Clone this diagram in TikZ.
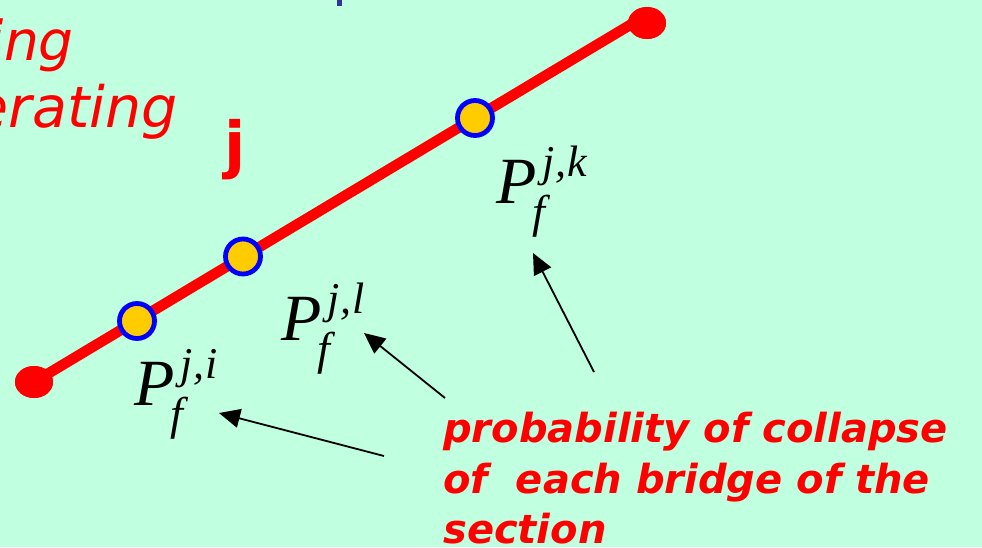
\documentclass[tikz,border=0pt]{standalone}
\usepackage{fontspec}
\usetikzlibrary{arrows.meta,shapes.geometric}
\newfontfamily\vfont{DejaVu Sans}
\newfontfamily\tnr{Liberation Serif}
\definecolor{bgmint}{RGB}{192,255,224}
\definecolor{bridgefill}{RGB}{255,204,0}
\definecolor{markblue}{RGB}{51,51,153}
\newcommand{\pflabel}[1]{{\tnr\itshape\fontsize{66}{66}\selectfont P\rlap{\kern6pt\raisebox{27pt}{\fontsize{44}{44}\selectfont j\kern1pt,\kern1pt#1}}\kern-4pt\raisebox{-24pt}{\fontsize{46}{46}\selectfont f}}}
\tikzset{
  endpt/.style={ellipse, fill=red, draw=none, minimum width=38pt, minimum height=32pt, inner sep=0pt},
  bridge/.style={circle, fill=bridgefill, draw=blue, line width=4.8pt, minimum size=35pt, inner sep=0pt},
  road/.style={red, line width=10.5pt},
  pflab/.style={anchor=base west, inner sep=0pt},
  pointer/.style={black, line width=1.8pt, -{Triangle[length=21pt,width=19pt]}},
  redtxt/.style={text=red, inner sep=0pt}
}
\begin{document}
\begin{tikzpicture}[x=1pt,y=-1pt]
\fill[bgmint] (0,0) rectangle (982,547);
\useasboundingbox (0,0) rectangle (982,547);
% cropped blue text fragment
\fill[markblue] (337,0) rectangle (342,6);
% cropped red texts
\node[redtxt, anchor=base east, font=\vfont\itshape\fontsize{55}{55}\selectfont] (ing) at (74,60) {ing};
\node[redtxt, anchor=base east, font=\vfont\itshape\fontsize{57}{57}\selectfont] (erating) at (178,127) {erating};
\node[redtxt, anchor=base, font=\vfont\bfseries\fontsize{62}{62}\selectfont] (jlab) at (235,166) {j};
% road
\node[endpt] (endL) at (34,382) {};
\node[endpt] (endR) at (647,23) {};
\coordinate (rtip) at (640,19);
\draw[road] (endL.center) -- (rtip);
\node[endpt] at (endL.center) {};
\node[endpt] at (endR.center) {};
\node[bridge] (bi) at (137,321) {};
\node[bridge] (bl) at (243,256.5) {};
\node[bridge] (bk) at (475,118) {};
% labels
\node[pflab] (pk) at (496,203) {\pflabel{k}};
\node[pflab] (pl) at (281,340) {\pflabel{l}};
\node[pflab] (pi) at (134,405) {\pflabel{i}};
% caption
\node[redtxt, anchor=north west, align=left, font=\vfont\bfseries\itshape\fontsize{40}{50.5}\selectfont] (cap) at (443,412) {probability of collapse\\of~ each bridge of the\\section};
% arrows
\coordinate (tk) at (594,372);
\coordinate (hk) at (533,253);
\coordinate (tl) at (445,398);
\coordinate (hl) at (364,333);
\coordinate (ti) at (384,456);
\coordinate (hi) at (219,413);
\draw[pointer] (tk) -- (hk);
\draw[pointer] (tl) -- (hl);
\draw[pointer] (ti) -- (hi);
\end{tikzpicture}
\end{document}
